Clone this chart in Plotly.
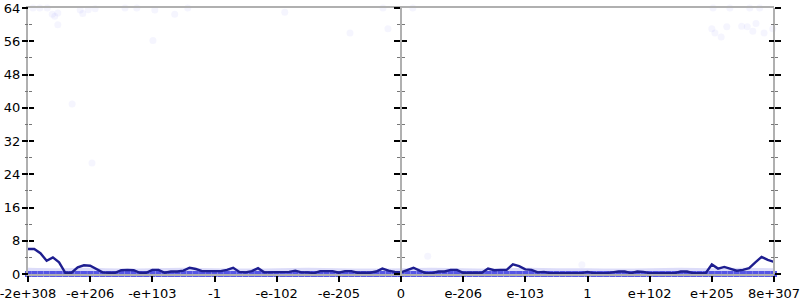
import plotly.graph_objects as go

# x axis: 13 equally spaced category-like positions (index 0..12)
tick_pos = list(range(13))
tick_labels = ["-2e+308", "-e+206", "-e+103", "-1", "-e-102", "-e-205", "0",
               "e-206", "e-103", "1", "e+102", "e+205", "8e+307"]
y_ticks = [0, 8, 16, 24, 32, 40, 48, 56, 64]

# moving average line, sampled every 0.1 index unit
line_x = [round(k * 0.1, 1) for k in range(121)]
line_y = [6.0, 6.0, 5.0, 3.2, 4.0, 2.8, 0.3, 0.3, 1.6, 2.1,
          2.0, 1.3, 0.4, 0.3, 0.3, 0.9, 1.0, 0.9, 0.3, 0.3,
          1.0, 1.0, 0.3, 0.6, 0.6, 0.8, 1.5, 1.2, 0.7, 0.7,
          0.7, 0.7, 1.0, 1.5, 0.5, 0.4, 0.7, 1.4, 0.4, 0.4,
          0.5, 0.5, 0.5, 0.8, 0.4, 0.4, 0.2, 0.7, 0.7, 0.7,
          0.3, 0.7, 0.7, 0.3, 0.3, 0.3, 0.6, 1.3, 0.8, 0.5,
          0.4, 1.0, 1.5, 0.8, 0.2, 0.2, 0.6, 0.6, 1.0, 1.0,
          0.3, 0.3, 0.3, 0.3, 1.3, 0.9, 1.0, 1.0, 2.3, 1.9,
          1.1, 1.0, 0.4, 0.5, 0.2, 0.2, 0.2, 0.2, 0.2, 0.2,
          0.5, 0.2, 0.2, 0.2, 0.4, 0.6, 0.6, 0.2, 0.6, 0.5,
          0.2, 0.2, 0.2, 0.2, 0.2, 0.6, 0.6, 0.2, 0.2, 0.2,
          2.3, 1.3, 1.7, 1.3, 0.8, 1.0, 1.4, 2.8, 4.1, 3.4,
          2.9]

# dense sample band near zero: upper edge of the light band
band_x = [k * 0.5 for k in range(25)]
band_top = [1.5, 1.4, 1.5, 1.3, 1.4, 1.5, 1.4, 1.3, 1.4, 1.5, 1.4, 1.3, 1.4,
            1.5, 1.4, 1.3, 1.5, 1.4, 1.4, 1.3, 1.4, 1.5, 1.4, 1.5, 1.4]
base_y = [0.0] * len(line_x)

# sparse individual samples
sparse_x = [0.08, 0.19, 0.31, 0.39, 0.43, 0.48, 0.48, 0.84, 0.88, 0.97, 1.08,
            1.56, 1.75, 2.01, 2.04, 2.36, 2.57, 0.71, 1.03, 4.13, 5.18, 5.71,
            5.79, 6.19, 6.43, 8.91, 11.02, 11.0, 11.05, 11.15, 11.24, 11.29,
            11.48, 11.57, 11.61, 11.66, 11.71, 11.77, 11.84, 11.98]
sparse_y = [64.0, 64.0, 64.0, 62.5, 62.0, 62.8, 60.0, 63.5, 62.7, 63.6, 63.8,
            64.0, 64.0, 56.2, 63.5, 62.5, 64.0, 40.9, 26.7, 63.0, 58.0, 64.0,
            59.0, 64.0, 4.3, 2.2, 64.0, 59.0, 58.0, 57.0, 59.5, 64.0,
            59.6, 59.5, 64.0, 58.4, 60.3, 64.0, 58.0, 59.0]

fig = go.Figure()
fig.add_trace(go.Scatter(x=band_x, y=band_top, mode="lines", fill="tozeroy",
                         line=dict(width=0, color="rgba(0,0,0,0)", shape="spline"),
                         fillcolor="rgba(130,130,235,0.28)", hoverinfo="skip"))
fig.add_trace(go.Scatter(x=line_x, y=base_y, mode="markers", cliponaxis=False,
                         marker=dict(symbol="square", size=6, color="rgba(70,70,225,0.9)",
                                     line=dict(width=0)), hoverinfo="skip"))
fig.add_trace(go.Scatter(x=sparse_x, y=sparse_y, mode="markers", cliponaxis=False,
                         marker=dict(size=7, color="rgba(120,120,235,0.07)", line=dict(width=0))))
fig.add_trace(go.Scatter(x=line_x, y=line_y, mode="lines",
                         line=dict(color="#1e1e90", width=2.4)))

# empty traces bound to the extra tick axes
for ax in ["y2", "y3", "y4", "y5", "y6", "y7"]:
    fig.add_trace(go.Scatter(x=[None], y=[None], yaxis=ax, showlegend=False, hoverinfo="skip"))

font = dict(family="DejaVu Sans", size=13, color="#000")
gray = "#b0b0b0"

def yax(position, side, ticks, labels, line):
    d = dict(range=[0, 64], tickvals=y_ticks, ticks=ticks, ticklen=6 if ticks == "outside" else 5,
             tickcolor="#000", tickwidth=1.5, showgrid=False, zeroline=False,
             showline=line, linecolor=gray, linewidth=2,
             showticklabels=labels, tickfont=font, automargin=False,
             ticklabeloverflow="allow",
             minor=dict(dtick=4, tick0=0, ticks=ticks, ticklen=3, tickcolor="#777", tickwidth=1),
             side=side, fixedrange=True)
    if position is not None:
        d.update(anchor="free", position=position, overlaying="y")
    return d

label_axis = yax(None, "left", "outside", True, True)
label_axis.update(ticklen=3, tickcolor="rgba(0,0,0,0)", minor=dict(ticks=""))

fig.update_layout(
    width=800, height=300,
    margin=dict(l=28, r=26, t=8, b=26, autoexpand=False),
    paper_bgcolor="white", plot_bgcolor="white",
    showlegend=False,
    xaxis=dict(range=[0, 12], tickvals=tick_pos, ticktext=tick_labels,
               ticks="outside", ticklen=6, tickcolor="#000", tickwidth=1.5,
               showgrid=False, zeroline=False, showline=True, linecolor=gray,
               linewidth=2, mirror=True, tickfont=font, fixedrange=True,
               automargin=False, ticklabeloverflow="allow"),
    yaxis=label_axis,
    yaxis2=yax(0, "left", "inside", False, False),
    yaxis3=yax(0.5, "left", "outside", False, True),
    yaxis4=yax(0.5, "left", "inside", False, False),
    yaxis5=yax(1, "right", "outside", False, True),
    yaxis6=yax(1, "right", "inside", False, False),
    yaxis7=yax(0, "left", "outside", False, False),
)

fig.write_html("out.html")
